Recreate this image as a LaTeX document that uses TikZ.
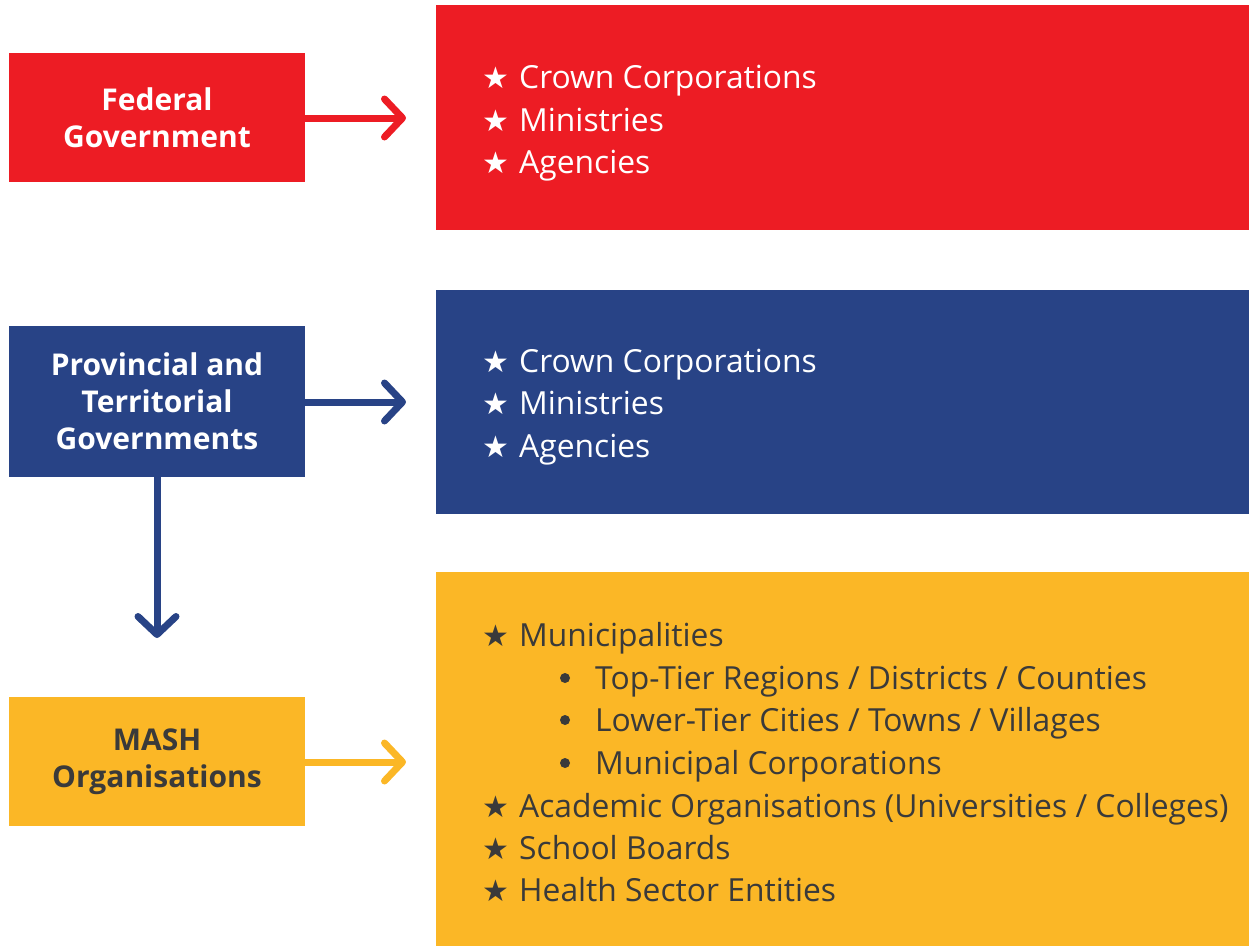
\documentclass[tikz,border=0pt]{standalone}
\usepackage{fontspec}
\setmainfont{Open Sans}
\newfontfamily\symfont{DejaVu Sans}
\usetikzlibrary{arrows.meta}
\definecolor{fedred}{HTML}{ED1C24}
\definecolor{provblue}{HTML}{284386}
\definecolor{mashyel}{HTML}{FBB726}
\definecolor{darktxt}{HTML}{3A3A3A}
\tikzset{
  leftbox/.style={rectangle, inner sep=0pt, minimum width=296pt, font=\fontsize{30}{37}\selectfont\bfseries, align=center},
  rightbox/.style={rectangle, inner sep=0pt, minimum width=813pt},
  item/.style={anchor=base west, inner sep=0pt, font=\fontsize{31.8}{34}\selectfont},
  staritem/.style={anchor=base west, inner sep=0pt, font=\symfont\fontsize{30}{30}\selectfont},
  bulitem/.style={circle, fill, inner sep=0pt, minimum size=10pt},
  flowarrow/.style={line width=7pt, line cap=round, -{Straight Barb[length=18pt, width=38pt, round]}},
}
\begin{document}
\begin{tikzpicture}[x=1pt, y=-1pt]
\useasboundingbox (0,0) rectangle (1249,946);
% left boxes
\node[leftbox, fill=fedred, text=white, minimum height=129pt] (fed) at (157,117.5) {Federal\\Government};
\node[leftbox, fill=provblue, text=white, minimum height=151pt] (prov) at (157,401.5) {Provincial and\\Territorial\\Governments};
\node[leftbox, fill=mashyel, text=darktxt, minimum height=129pt] (mash) at (157,761.5) {MASH\\Organisations};
% right boxes
\node[rightbox, fill=fedred, minimum height=225pt] (fedr) at (842.5,117.5) {};
\node[rightbox, fill=provblue, minimum height=224pt] (provr) at (842.5,402) {};
\node[rightbox, fill=mashyel, minimum height=374pt] (mashr) at (842.5,759) {};
% arrows
\coordinate (fedtip) at (406,118);
\coordinate (provtip) at (406,402);
\coordinate (mashtip) at (406,762);
\coordinate (downtip) at (157,638);
\draw[flowarrow, fedred] (fed.east |- fedtip) -- (fedtip);
\draw[flowarrow, provblue] (prov.east |- provtip) -- (provtip);
\draw[flowarrow, mashyel] (mash.east |- mashtip) -- (mashtip);
\draw[flowarrow, provblue] (prov.south) -- (downtip);
% red / blue items
\begin{scope}[text=white]
\node[staritem] (f1s) at (482,88) {★};
\node[item] (f1) at (519,88) {Crown Corporations};
\node[staritem] (f2s) at (482,131) {★};
\node[item] (f2) at (519,131) {Ministries};
\node[staritem] (f3s) at (482,173) {★};
\node[item] (f3) at (519,173) {Agencies};
\node[staritem] (p1s) at (482,372) {★};
\node[item] (p1) at (519,372) {Crown Corporations};
\node[staritem] (p2s) at (482,414) {★};
\node[item] (p2) at (519,414) {Ministries};
\node[staritem] (p3s) at (482,457) {★};
\node[item] (p3) at (519,457) {Agencies};
\end{scope}
\begin{scope}[text=darktxt]
\node[staritem] (m1s) at (482,646) {★};
\node[item] (m1) at (519,646) {Municipalities};
\node[bulitem, darktxt] (m2s) at (565,678) {};
\node[item] (m2) at (595,689) {Top-Tier Regions / Districts / Counties};
\node[bulitem, darktxt] (m3s) at (565,720) {};
\node[item] (m3) at (595,731) {Lower-Tier Cities / Towns / Villages};
\node[bulitem, darktxt] (m4s) at (565,763) {};
\node[item] (m4) at (595,774) {Municipal Corporations};
\node[staritem] (m5s) at (482,817) {★};
\node[item] (m5) at (519,817) {Academic Organisations (Universities / Colleges)};
\node[staritem] (m6s) at (482,859) {★};
\node[item] (m6) at (519,859) {School Boards};
\node[staritem] (m7s) at (482,901) {★};
\node[item] (m7) at (519,901) {Health Sector Entities};
\end{scope}
\end{tikzpicture}
\end{document}
